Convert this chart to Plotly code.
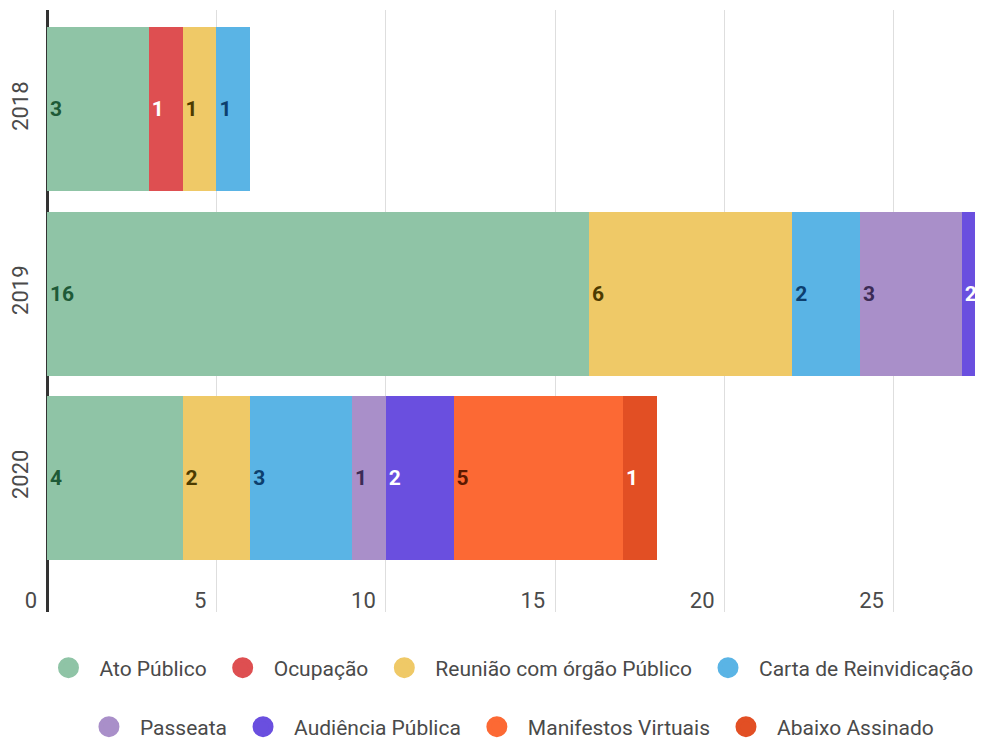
import plotly.graph_objects as go

years = ["2018", "2019", "2020"]
series_names = ["Ato Público", "Ocupação", "Reunião com órgão Público", "Carta de Reinvidicação",
                "Passeata", "Audiência Pública", "Manifestos Virtuais", "Abaixo Assinado"]
ato_publico = [3, 16, 4]
ocupacao = [1, 0, 0]
reuniao = [1, 6, 2]
carta = [1, 2, 3]
passeata = [0, 3, 1]
audiencia = [0, 2, 2]
manifestos = [0, 0, 5]
abaixo = [0, 0, 1]
series_values = [ato_publico, ocupacao, reuniao, carta, passeata, audiencia, manifestos, abaixo]
x_ticks = [0, 5, 10, 15, 20, 25]

colors = ["#8fc4a6", "#de4f51", "#efc967", "#5ab4e5", "#a98fc9", "#6a4fdf", "#fc6934", "#e24f24"]
text_colors = ["#1e5a37", "#ffffff", "#4d3b00", "#0d3f6e", "#3c2b55", "#ffffff", "#5a1800", "#ffffff"]
legend_ids = ["legend", "legend", "legend", "legend", "legend2", "legend2", "legend2", "legend2"]

fig = go.Figure()
for name, vals, c, tc in zip(series_names, series_values, colors, text_colors):
    fig.add_trace(go.Bar(
        y=years, x=vals, orientation="h", name=name,
        marker=dict(color=c, line=dict(width=0)),
        text=[str(v) if v else "" for v in vals],
        textposition="inside", insidetextanchor="start", textangle=0,
        constraintext="none",
        textfont=dict(family="Roboto", size=21, color=tc, weight="bold"),
        showlegend=False, hoverinfo="skip",
    ))

for name, c, lg in zip(series_names, colors, legend_ids):
    fig.add_trace(go.Scatter(
        x=[None], y=[None], mode="markers", name=name, legend=lg,
        marker=dict(symbol="circle", size=16, color=c, line=dict(color=c, width=5)),
        showlegend=True,
    ))

legend_font = dict(family="Roboto", size=21, color="#4a4a4a")
fig.update_layout(
    width=975, height=732,
    barmode="stack", bargap=0.109,
    plot_bgcolor="white", paper_bgcolor="white",
    margin=dict(l=39, r=0, t=2, b=128, autoexpand=False),
    xaxis=dict(
        range=[0, 27.63], tickvals=x_ticks, ticktext=[str(t) for t in x_ticks],
        showgrid=True, gridcolor="#dedede", gridwidth=1,
        zeroline=True, zerolinecolor="#333333", zerolinewidth=2.5,
        ticklabelposition="outside left", ticklabelstandoff=-27, ticklabelshift=-10,
        tickfont=dict(family="Roboto", size=22, color="#4a4a4a"),
        automargin=False, fixedrange=True,
    ),
    yaxis=dict(
        categoryorder="array", categoryarray=years,
        range=[2.73, -0.54], showgrid=False, zeroline=False,
        tickangle=-90, ticks="outside", ticklen=9, tickcolor="rgba(0,0,0,0)",
        tickfont=dict(family="Roboto", size=22, color="#4a4a4a"),
        automargin=False, fixedrange=True,
    ),
    legend=dict(orientation="h", traceorder="normal", itemwidth=52, x=0.4925, xanchor="center",
                y=-0.093, yanchor="middle", font=legend_font, bgcolor="rgba(0,0,0,0)"),
    legend2=dict(orientation="h", traceorder="normal", itemwidth=52, x=0.493, xanchor="center",
                 y=-0.191, yanchor="middle", font=legend_font, bgcolor="rgba(0,0,0,0)"),
    showlegend=True,
)

fig.write_html("out.html")
